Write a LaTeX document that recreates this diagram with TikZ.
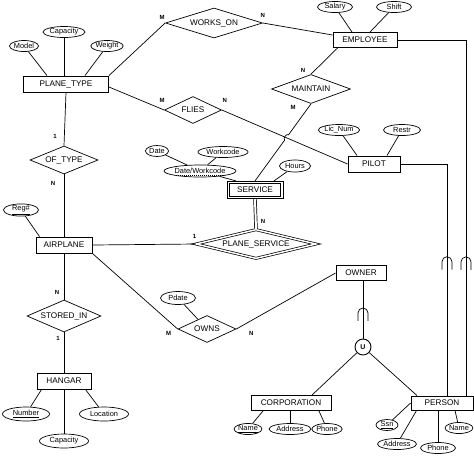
\documentclass[tikz,border=0pt]{standalone}
\usepackage{fontspec}
\setmainfont{Liberation Sans}
\usetikzlibrary{positioning, shapes.geometric, calc}

\begin{document}
\begin{tikzpicture}[
    x=1pt, y=-1pt, on grid, line width=0.7pt,
    entity/.style={rectangle, draw, line width=0.9pt, inner sep=0pt, minimum height=16pt, font=\fontsize{8.2}{9}\selectfont},
    rel/.style={diamond, draw, aspect=2.5, inner sep=0pt, font=\fontsize{8.2}{9}\selectfont},
    weakrel/.style={rel, double, double distance=1.5pt, line width=0.7pt, aspect=4},
    attr/.style={ellipse, draw, inner sep=0pt, minimum height=11pt, font=\fontsize{7.4}{8}\selectfont},
    card/.style={font=\fontsize{6}{7}\selectfont\bfseries, inner sep=0pt},
    unionop/.style={circle, draw, line width=0.9pt, minimum size=16pt, inner sep=0pt, font=\fontsize{7}{8}\selectfont\bfseries},
    subsetarc/.pic={\draw (-5pt,-8pt) -- (-5pt,0pt) arc[start angle=180, end angle=0, radius=5pt] -- (5pt,-8pt);},
]
    \useasboundingbox (0,0) rectangle (474,467);

    % Entities and relationships
    \node[entity, minimum width=85pt] (planetype) at (66,84) {PLANE\_TYPE};
    \node[rel, aspect=3.2, minimum width=97pt, minimum height=30pt, above right=61pt and 148pt of planetype] (workson) {WORKS\_ON};
    \node[entity, minimum width=64pt, minimum height=15pt, below right=17pt and 151pt of workson] (employee) {EMPLOYEE};
    \node[rel, minimum width=57pt, minimum height=27pt, below right=26pt and 127pt of planetype] (flies) {FLIES};
    \node[rel, minimum width=79pt, minimum height=29pt, below left=49pt and 54pt of employee] (maintain) {MAINTAIN};
    \node[entity, minimum width=52pt, below right=54pt and 181pt of flies] (pilot) {PILOT};
    \node[rel, minimum width=68pt, minimum height=28pt, below left=76pt and 2pt of planetype] (oftype) {OF\_TYPE};
    \node[entity, minimum width=56pt, below=85pt of oftype] (airplane) {AIRPLANE};
    \node[entity, line width=0.7pt, minimum width=56pt, minimum height=17.5pt, below left=101pt and 56pt of maintain] (service) {SERVICE};
    \draw ([xshift=3pt, yshift=-2.5pt]service.north west) rectangle ([xshift=-3pt, yshift=2.5pt]service.south east);
    \node[weakrel, minimum width=120pt, minimum height=29pt, below right=54pt and 1pt of service] (planeservice) {PLANE\_SERVICE};
    \node[rel, minimum width=74pt, minimum height=32pt, below=71pt of airplane] (storedin) {STORED\_IN};
    \node[entity, minimum width=54pt, below=65pt of storedin] (hangar) {HANGAR};
    \node[rel, minimum width=58pt, minimum height=27pt, below right=84pt and 143pt of airplane] (owns) {OWNS};
    \node[entity, minimum width=50pt, minimum height=15pt, above right=56pt and 154pt of owns] (owner) {OWNER};
    \node[unionop, below right=74pt and 2pt of owner] (union) {U};
    \node[entity, minimum width=80pt, minimum height=15pt, below left=56pt and 72pt of union] (corporation) {CORPORATION};
    \node[entity, minimum width=62pt, minimum height=14pt, below right=56pt and 79pt of union] (person) {PERSON};

    % Attributes
    \node[attr, minimum width=29pt, above left=38pt and 42pt of planetype] (model) {Model};
    \node[attr, minimum width=42pt, above left=52pt and 2pt of planetype] (capacity) {Capacity};
    \node[attr, minimum width=31pt, above right=38pt and 41pt of planetype] (weight) {Weight};
    \node[attr, minimum width=35pt, above left=33pt and 30pt of employee] (salary) {Salary};
    \node[attr, minimum width=35pt, above right=33pt and 29pt of employee] (empshift) {Shift};
    \node[attr, minimum width=41pt, above left=34pt and 35pt of pilot] (licnum) {Lic\_Num};
    \node[attr, minimum width=37pt, above right=34pt and 28pt of pilot] (restr) {Restr};
    \node[attr, minimum width=67pt, minimum height=12pt, above left=19pt and 55pt of service] (datework) {Date/Workcode};
    \node[attr, minimum width=23pt, above left=20pt and 43pt of datework] (date) {Date};
    \node[attr, minimum width=50pt, above right=19pt and 23pt of datework] (workcode) {Workcode};
    \node[attr, minimum width=31pt, minimum height=12pt, above right=24pt and 40pt of service] (hours) {Hours};
    \node[attr, minimum width=35pt, minimum height=12pt, above left=35pt and 43pt of airplane] (regno) {\underline{Reg\#}};
    \node[attr, minimum width=35pt, minimum height=13pt, above left=31pt and 29pt of owns] (pdate) {Pdate};
    \node[attr, minimum width=47pt, minimum height=14pt, below left=33pt and 38pt of hangar] (number) {\underline{Number}};
    \node[attr, minimum width=49pt, minimum height=14pt, below=60pt of hangar] (hcapacity) {Capacity};
    \node[attr, minimum width=49pt, minimum height=14pt, below right=33pt and 40pt of hangar] (location) {Location};
    \node[attr, minimum width=24pt, below left=26pt and 43pt of corporation] (cname) {\underline{Name}};
    \node[attr, minimum width=42pt, below left=26pt and 1pt of corporation] (caddress) {Address};
    \node[attr, minimum width=28pt, below right=26pt and 36pt of corporation] (cphone) {Phone};
    \node[attr, minimum width=22pt, below left=22pt and 55pt of person] (ssn) {\underline{Ssn}};
    \node[attr, minimum width=39pt, below left=41pt and 45pt of person] (paddress) {Address};
    \node[attr, minimum width=35pt, below left=45pt and 4pt of person] (pphone) {Phone};
    \node[attr, minimum width=27pt, below right=25pt and 17pt of person] (pname) {Name};

    % Relationship lines
    \draw (planetype.north east) -- node[card, pos=1, xshift=-3pt, yshift=6pt] {M} (workson.west);
    \draw (workson.east) -- node[card, pos=0, yshift=8pt] {N} ([yshift=5pt]employee.west);
    \draw ([yshift=-3pt]planetype.east) -- node[card, pos=1, xshift=-2pt, yshift=10pt] {M} (flies.west);
    \draw (flies.east) -- node[card, pos=0, xshift=3pt, yshift=10pt] {N} (pilot.west);
    \draw ([xshift=5pt]employee.south west) -- node[card, pos=1, xshift=-8pt, yshift=4pt] {N} (maintain.north);
    \coordinate (hopa) at ($(maintain.south)!0.40!(service.north)$);
    \coordinate (hopb) at ($(maintain.south)!0.47!(service.north)$);
    \draw (maintain.south) -- node[card, pos=0, xshift=-18pt, yshift=-4pt] {M} (hopa) to[bend right=90] (hopb) -- (service.north);
    \draw (planetype.south) -- node[card, pos=1, xshift=-9pt, yshift=9pt] {1} (oftype.north);
    \draw (oftype.south) -- node[card, pos=0, xshift=-11pt, yshift=-9pt] {N} (airplane.north);
    \draw (airplane.east) -- node[card, pos=1, xshift=-1pt, yshift=8pt] {1} (planeservice.west);
    \draw[double, double distance=2pt] (service.south) -- node[card, pos=1, xshift=7pt, yshift=8pt] {N} (planeservice.north);
    \draw (airplane.south) -- node[card, pos=1, xshift=-7pt, yshift=7pt] {N} (storedin.north);
    \draw (storedin.south) -- node[card, pos=0, xshift=-6pt, yshift=-6pt] {1} (hangar.north);
    \draw (airplane.south east) -- node[card, pos=1, xshift=-9pt, yshift=-4pt] {M} (owns.west);
    \draw (owns.east) -- node[card, pos=0, xshift=15pt, yshift=-4pt] {N} (owner.west);

    % Union type and subclasses
    \draw ([xshift=2pt]owner.south) -- coordinate[pos=0.556] (ownsub) (union);
    \pic at (ownsub) {subsetarc};
    \draw (union) -- ([xshift=21pt]corporation.north);
    \draw (union) -- ([xshift=-25pt]person.north);
    \draw (employee.east) -| coordinate[pos=0.812] (empsub) ([xshift=24pt]person.north);
    \draw (pilot.east) -| coordinate[pos=0.711] (pilsub) ([xshift=5pt]person.north);
    \pic at (empsub) {subsetarc};
    \pic at (pilsub) {subsetarc};

    % Attribute lines
    \draw (model) -- ([xshift=-19pt]planetype.north);
    \draw (capacity) -- ([xshift=-2pt]planetype.north);
    \draw (weight) -- ([xshift=19pt]planetype.north);
    \draw (salary) -- ([xshift=-13pt]employee.north);
    \draw (empshift) -- ([xshift=5pt]employee.north);
    \draw (licnum) -- ([xshift=-17pt]pilot.north);
    \draw (restr) -- ([xshift=13pt]pilot.north);
    \draw (date) -- (datework);
    \draw (workcode) -- (datework);
    \draw (datework) -- ([xshift=-19pt]service.north);
    \draw (hours) -- ([xshift=19pt]service.north);
    \draw[line width=0.4pt, dash pattern=on 1.2pt off 0.8pt] ([xshift=-24pt, yshift=-1.5pt]datework.base) -- ([xshift=24pt, yshift=-1.5pt]datework.base);
    \draw (regno) -- ([xshift=4pt]airplane.north west);
    \draw (pdate) -- (owns);
    \draw (number) -- ([xshift=5pt]hangar.south west);
    \draw (hcapacity) -- (hangar.south);
    \draw (location) -- ([xshift=-6pt]hangar.south east);
    \draw (cname) -- ([xshift=-28pt]corporation.south);
    \draw (caddress) -- ([xshift=-1pt]corporation.south);
    \draw (cphone) -- ([xshift=28pt]corporation.south);
    \draw (ssn) -- (person.west);
    \draw (paddress) -- ([xshift=6pt]person.south west);
    \draw (pphone) -- ([xshift=-4pt]person.south);
    \draw (pname) -- ([xshift=13pt]person.south);
\end{tikzpicture}
\end{document}
